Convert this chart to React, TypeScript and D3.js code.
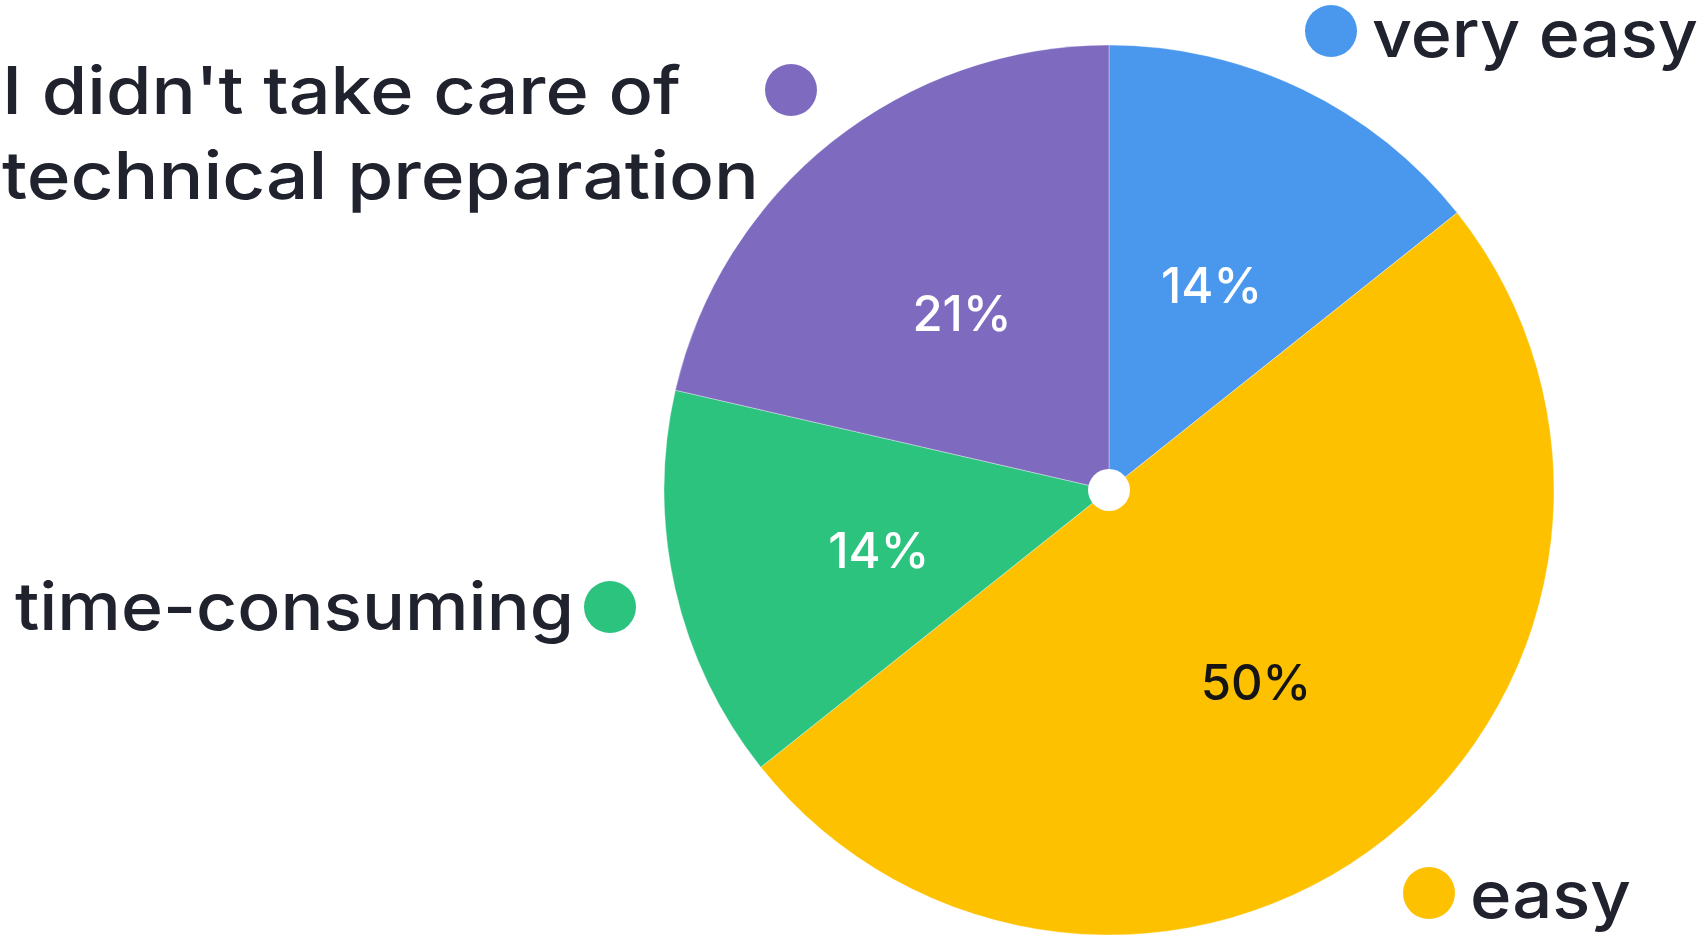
import React from 'react';
import * as d3 from 'd3';

const width = 1708;
const height = 942;

// slices, clockwise from 12 o'clock
const categories = ['very easy', 'easy', 'time-consuming', "I didn't take care of technical preparation"];
const shares = [14.3, 50, 14.3, 21.4];
const pctLabels = ['14%', '50%', '14%', '21%'];
const colors = ['#4a98ee', '#fdc100', '#2cc37e', '#7e6bc0'];
const pctColors = ['#ffffff', '#141414', '#ffffff', '#ffffff'];

const cx = 1109;
const cy = 490;
const radius = 445;

// hand placed labels around the pie (dot + text lines)
const labelLayout = [
  { dot: [1331, 31], lines: [{ text: 'very easy', x: 1372, y: 57, len: 326 }] },
  { dot: [1429, 893], lines: [{ text: 'easy', x: 1470, y: 918, len: 161 }] },
  { dot: [610, 607], lines: [{ text: 'time-consuming', x: 15, y: 630, len: 559 }] },
  {
    dot: [791, 90],
    lines: [
      { text: "I didn't take care of", x: 2, y: 114, len: 679 },
      { text: 'technical preparation', x: 2, y: 199, len: 757 },
    ],
  },
];

const pie = d3.pie<number>().sort(null).value(d => d);
const arcs = pie(shares);
const arc = d3.arc<d3.PieArcDatum<number>>().innerRadius(0).outerRadius(radius);
const labelArc = d3.arc<d3.PieArcDatum<number>>().innerRadius(236).outerRadius(236);

const font = 'Inter, "Noto Sans", sans-serif';

export default function App() {
  return (
    <svg
      width={width}
      height={height}
      style={{ position: 'absolute', left: 0, top: 0, background: '#fff' }}
    >
      <g transform={`translate(${cx}, ${cy})`}>
        {arcs.map((a, i) => (
          <path key={categories[i]} d={arc(a) || ''} fill={colors[i]} stroke="#ffffff" strokeOpacity={0.35} strokeWidth={1} />
        ))}
        <circle r={21} fill="#ffffff" />
        {arcs.map((a, i) => {
          const [x, y] = labelArc.centroid(a);
          return (
            <text
              key={'p' + i}
              x={x}
              y={y + 8}
              textAnchor="middle"
              dominantBaseline="central"
              fill={pctColors[i]}
              fontFamily={font}
              fontWeight={500}
              fontSize={49}
            >
              {pctLabels[i]}
            </text>
          );
        })}
      </g>
      {labelLayout.map((l, i) => (
        <g key={'l' + i}>
          <circle cx={l.dot[0]} cy={l.dot[1]} r={26} fill={colors[i]} />
          {l.lines.map(line => (
            <text
              key={line.text}
              x={line.x}
              y={line.y}
              fill="#20232e"
              fontFamily={font}
              fontWeight={500}
              fontSize={66}
              textLength={line.len}
              lengthAdjust="spacingAndGlyphs"
            >
              {line.text}
            </text>
          ))}
        </g>
      ))}
    </svg>
  );
}
